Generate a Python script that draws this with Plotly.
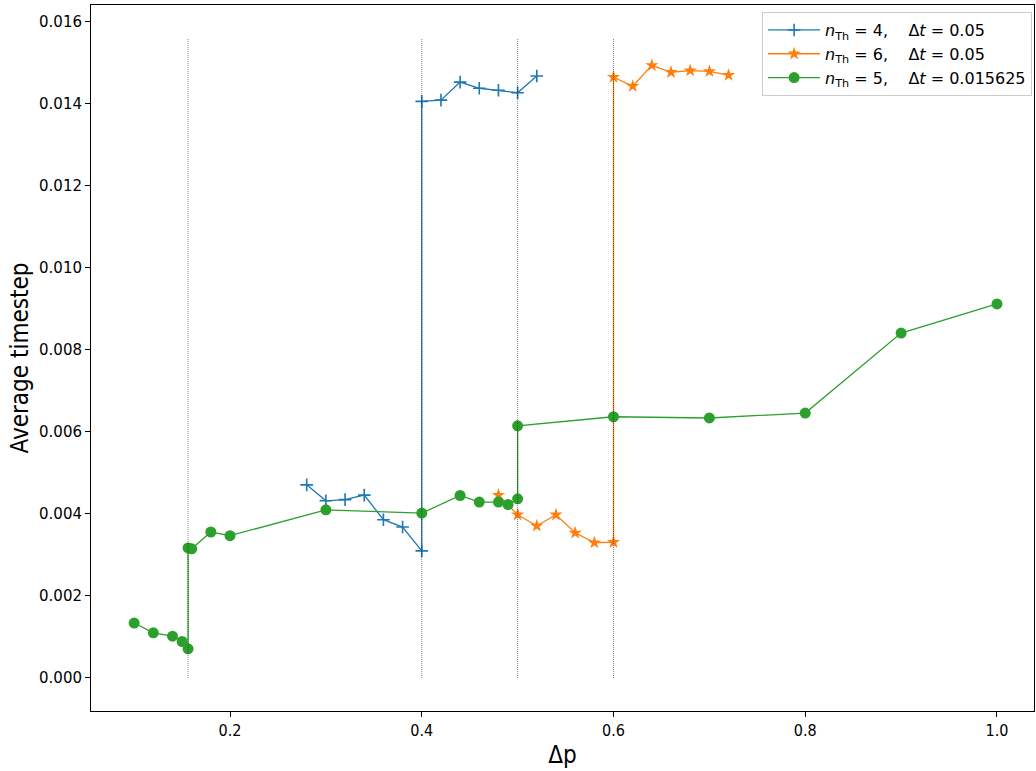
import plotly.graph_objects as go

# n_Th = 4, dt = 0.05
x_n4 = [0.28, 0.30, 0.32, 0.34, 0.36, 0.38, 0.40, 0.40, 0.42, 0.44, 0.46, 0.48, 0.50, 0.52]
y_n4 = [0.00471, 0.00432, 0.00435, 0.00446, 0.00386, 0.00368, 0.00310,
        0.01406, 0.01409, 0.01453, 0.01438, 0.01433, 0.01427, 0.01468]

# n_Th = 6, dt = 0.05
x_n6 = [0.48, 0.50, 0.52, 0.54, 0.56, 0.58, 0.60, 0.60, 0.62, 0.64, 0.66, 0.68, 0.70, 0.72]
y_n6 = [0.00446, 0.00398, 0.00371, 0.00398, 0.00354, 0.00330, 0.00331,
        0.01465, 0.01443, 0.01494, 0.01477, 0.01481, 0.01479, 0.01470]

# n_Th = 5, dt = 0.015625
x_n5 = [0.10, 0.12, 0.14, 0.15, 0.15625, 0.15625, 0.16, 0.18, 0.20, 0.30, 0.40,
        0.44, 0.46, 0.48, 0.49, 0.50, 0.50, 0.60, 0.70, 0.80, 0.90, 1.00]
y_n5 = [0.00134, 0.00110, 0.00102, 0.00089, 0.00071, 0.00317, 0.00315, 0.00356,
        0.00347, 0.00410, 0.00402, 0.00445, 0.00429, 0.00429, 0.00423, 0.00437,
        0.00615, 0.00637, 0.00634, 0.00646, 0.00841, 0.00912]

vline_x = [0.15625, 0.4, 0.5, 0.6]
vline_top = 0.0156

blue = "#1f77b4"
orange = "#ff7f0e"
green = "#2ca02c"

fig = go.Figure()
fig.add_trace(go.Scatter(
    x=x_n4, y=y_n4, mode="lines+markers",
    name="<i>n</i><sub>Th</sub> = 4,    Δ<i>t</i> = 0.05",
    line=dict(color=blue, width=1.3),
    marker=dict(symbol="cross-thin", size=9, color=blue, line=dict(color=blue, width=1.6)),
))
fig.add_trace(go.Scatter(
    x=x_n6, y=y_n6, mode="lines+markers",
    name="<i>n</i><sub>Th</sub> = 6,    Δ<i>t</i> = 0.05",
    line=dict(color=orange, width=1.3),
    marker=dict(symbol="star", size=10, color=orange, line=dict(width=0)),
))
fig.add_trace(go.Scatter(
    x=x_n5, y=y_n5, mode="lines+markers",
    name="<i>n</i><sub>Th</sub> = 5,    Δ<i>t</i> = 0.015625",
    line=dict(color=green, width=1.3),
    marker=dict(symbol="circle", size=11, color=green, line=dict(width=0)),
))

for xv in vline_x:
    fig.add_shape(type="line", x0=xv, x1=xv, y0=0, y1=vline_top,
                  xref="x", yref="y", layer="above",
                  line=dict(color="rgba(0,0,0,0.6)", width=0.8, dash="1px,1px"))

fig.update_layout(
    width=1036, height=771,
    margin=dict(l=91, r=2, t=5, b=60),
    paper_bgcolor="white", plot_bgcolor="white",
    showlegend=True,
    legend=dict(
        x=0.998, y=0.99, xanchor="right", yanchor="top",
        bgcolor="rgba(255,255,255,0.8)", bordercolor="#cccccc", borderwidth=1,
        font=dict(family="DejaVu Sans", size=16, color="black"),
        tracegroupgap=0, itemwidth=52,
    ),
    font=dict(family="DejaVu Sans", color="black"),
)
fig.update_xaxes(
    range=[0.055, 1.0386], showgrid=False, zeroline=False,
    showline=True, linecolor="black", linewidth=1, mirror=True,
    ticks="outside", ticklen=5, tickcolor="black",
    tickvals=[0.2, 0.4, 0.6, 0.8, 1.0], ticktext=["0.2", "0.4", "0.6", "0.8", "1.0"],
    tickfont=dict(family="Liberation Sans Narrow, DejaVu Sans Condensed", size=16),
    title=dict(text="Δp", font=dict(family="Liberation Sans Narrow, DejaVu Sans Condensed", size=24), standoff=6),
)
fig.update_yaxes(
    range=[-0.000805, 0.01641], showgrid=False, zeroline=False,
    showline=True, linecolor="black", linewidth=1, mirror=True,
    ticks="outside", ticklen=5, tickcolor="black",
    tickvals=[0, 0.002, 0.004, 0.006, 0.008, 0.010, 0.012, 0.014, 0.016],
    ticktext=["0.000", "0.002", "0.004", "0.006", "0.008", "0.010", "0.012", "0.014", "0.016"],
    tickfont=dict(family="DejaVu Sans", size=15),
    title=dict(text="Average timestep", font=dict(family="Liberation Sans Narrow, DejaVu Sans Condensed", size=24), standoff=3),
)

fig.write_html("out.html")
